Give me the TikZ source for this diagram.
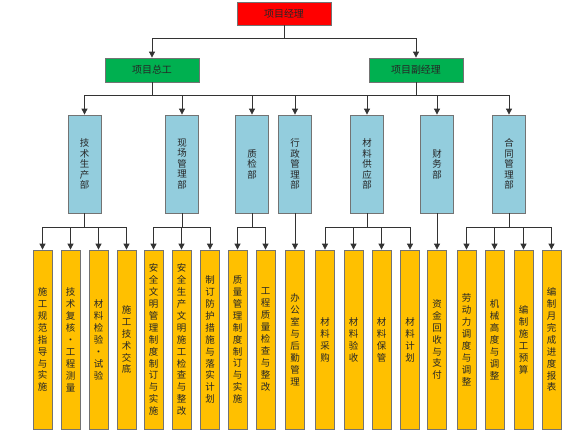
\documentclass[tikz,border=0pt]{standalone}
\usepackage{fontspec}
\setmainfont{Noto Sans CJK SC}
\usetikzlibrary{arrows.meta}
\XeTeXlinebreaklocale "zh"
\XeTeXlinebreakskip = 0pt plus 1pt

\definecolor{mgrred}{HTML}{FF0000}
\definecolor{leadgreen}{HTML}{00B050}
\definecolor{deptblue}{HTML}{93CDDD}
\definecolor{taskgold}{HTML}{FFC000}
\definecolor{linegray}{HTML}{333333}

\tikzset{
  box/.style={draw=black!55, line width=0.8bp, text=black!85, inner sep=0pt},
  mgr/.style={box, fill=mgrred, minimum width=94bp, minimum height=23bp, font=\fontsize{10}{12}\selectfont},
  lead/.style={box, fill=leadgreen, minimum width=94bp, minimum height=24bp, font=\fontsize{10}{12}\selectfont},
  dept/.style={box, fill=deptblue, minimum width=33bp, minimum height=98bp, text width=10bp, align=center, font=\fontsize{9.5}{10.5}\selectfont},
  task/.style={box, fill=taskgold, minimum width=19bp, minimum height=179bp, text width=10bp, align=center, font=\fontsize{9.5}{12}\selectfont},
  link/.style={draw=linegray, line width=0.8bp},
  >={Triangle[width=6bp,length=6bp]}
}

\begin{document}
\begin{tikzpicture}[x=1bp, y=-1bp]
\useasboundingbox (0,0) rectangle (576,432);
\node[mgr]  (pm) at (284,13.5) {项目经理};
\node[lead] (zg) at (152,70) {项目总工};
\node[lead] (fj) at (416,70) {项目副经理};
% departments
\foreach \x/\txt [count=\i] in {84.5/技术生产部, 182/现场管理部, 252/质检部, 295/行政管理部,
    367/材料供应部, 437/财务部, 509/合同管理部}
  \node[dept] (d\i) at (\x,164) {\txt};
% tasks
\foreach \x/\txt [count=\i] in {42.5/施工规范指导与实施, 70.5/技术复核•工程测量, 98.5/材料检验•试验,
    126.5/施工技术交底, 153.5/安全文明管理制度制订与实施, 181.5/安全生产文明施工检查与整改,
    210/制订防护措施与落实计划, 237.5/质量管理制度制订与实施, 265.5/工程质量检查与整改,
    295/办公室与后勤管理, 325/材料采购, 353.5/材料验收, 381.5/材料保管, 410/材料计划,
    437/资金回收与支付, 466.5/劳动力调度与调整, 494.5/机械高度与调整, 523.5/编制施工预算,
    551.5/编制月完成进度报表}
  \node[task] (t\i) at (\x,339.5) {\txt};
% connectors
\draw[link,->] (pm.south) -- ++(0,13) -| (zg.north);
\draw[link,->] (pm.south) -- ++(0,13) -| (fj.north);
\draw[link] (zg.south) -- ++(0,13) coordinate (zbus);
\draw[link] (fj.south) -- ++(0,13) coordinate (fbus);
\draw[link] (zbus) -- (fbus);
\foreach \d in {1,...,4} \draw[link,->] (zbus) -| (d\d.north);
\foreach \d in {5,6,7} \draw[link,->] (fbus) -| (d\d.north);
\foreach \d/\ks in {1/{1,2,3,4}, 2/{5,6,7}, 3/{8,9}, 4/{10}, 5/{11,12,13,14}, 6/{15}, 7/{16,17,18,19}}{
  \draw[link] (d\d.south) -- ++(0,14) coordinate (b\d);
  \foreach \k in \ks \draw[link,->] (b\d) -| (t\k.north);
}
\end{tikzpicture}
\end{document}
